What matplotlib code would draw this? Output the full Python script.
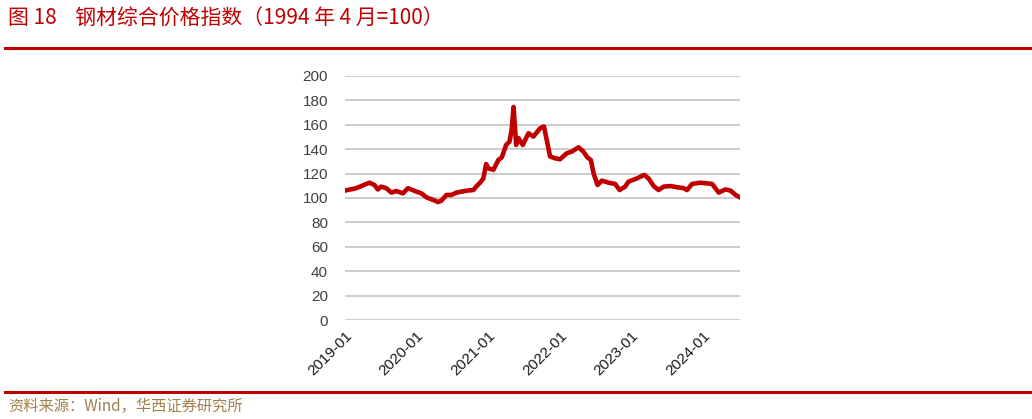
import numpy as np
import pandas as pd
import matplotlib
matplotlib.use("Agg")
from matplotlib import pyplot as plt
from matplotlib.lines import Line2D

plt.rcParams['font.family'] = ['Noto Sans CJK SC', 'DejaVu Sans']

# Steel composite price index (1994-04 = 100)
dates = ['2019-01-01', '2019-03-01', '2019-04-21', '2019-05-08', '2019-06-02', '2019-06-19',
         '2019-07-06', '2019-08-01', '2019-08-27', '2019-09-21', '2019-10-25', '2019-11-19',
         '2020-01-02', '2020-01-27', '2020-02-22', '2020-03-27', '2020-04-21', '2020-05-08',
         '2020-06-03', '2020-06-28', '2020-07-24', '2020-09-14', '2020-10-18', '2020-11-04',
         '2020-11-21', '2020-12-08', '2020-12-22', '2021-01-02', '2021-01-28', '2021-02-22',
         '2021-03-12', '2021-04-03', '2021-04-20', '2021-05-01', '2021-05-11', '2021-05-24',
         '2021-06-05', '2021-06-27', '2021-07-26', '2021-08-20', '2021-09-23', '2021-10-13',
         '2021-10-27', '2021-11-13', '2021-12-08', '2022-01-03', '2022-02-06', '2022-03-04',
         '2022-04-07', '2022-05-02', '2022-05-22', '2022-06-09', '2022-06-23', '2022-07-13',
         '2022-08-04', '2022-09-07', '2022-10-11', '2022-11-02', '2022-12-01', '2022-12-18',
         '2023-01-30', '2023-03-08', '2023-03-30', '2023-04-25', '2023-05-20', '2023-06-15',
         '2023-07-19', '2023-08-22', '2023-09-25', '2023-10-12', '2023-11-07', '2023-12-19',
         '2024-02-17', '2024-03-22', '2024-04-25', '2024-05-21', '2024-06-16', '2024-07-08']
index_values = [106, 108, 111.5, 112.5, 110.6, 107,
                109.3, 108, 104.4, 105.7, 103.8, 108,
                105.2, 103.8, 100.5, 98.4, 96.7, 97.8,
                102.5, 102.5, 104.4, 106, 106.5, 109.8,
                112.5, 116, 127.8, 124.3, 123, 131,
                133.3, 143.4, 146, 155.7, 174.5, 143.4,
                149, 143.4, 153, 150.3, 157, 158.5,
                147.5, 134, 132.5, 131.7, 136.6, 138,
                141.5, 138, 133.3, 131, 120, 110.6,
                114.2, 112.5, 111.5, 106.5, 109.3, 113.4,
                116, 118.9, 116, 109.8, 106.5, 109.3,
                109.8, 108.8, 108, 106.5, 111.5, 112.5,
                111.5, 104.4, 107, 106, 102.5, 100.5]
year_ticks = ['2019-01-01', '2020-01-01', '2021-01-01', '2022-01-01', '2023-01-01', '2024-01-01']
year_labels = ['2019-01', '2020-01', '2021-01', '2022-01', '2023-01', '2024-01']
y_ticks = list(range(0, 201, 20))

red = '#c00000'

fig = plt.figure(figsize=(10.32, 4.19), dpi=100)
ax = fig.add_axes([0.334, 0.236, 0.383, 0.583])

x = pd.to_datetime(dates)
ax.plot(x, index_values, color=red, linewidth=3.3, solid_joinstyle='round')

ax.set_ylim(0, 200)
ax.set_yticks(y_ticks)
ax.set_xlim(pd.Timestamp('2019-01-01'), pd.Timestamp('2024-07-08'))
ax.set_xticks(pd.to_datetime(year_ticks))
ax.set_xticklabels(year_labels, rotation=45, ha='right', rotation_mode='anchor')
for lab in ax.get_xticklabels() + ax.get_yticklabels():
    lab.set_family('Liberation Sans')
ax.yaxis.grid(True, color='#c8c8c8', linewidth=1.3)
ax.set_axisbelow(True)
for spine in ax.spines.values():
    spine.set_visible(False)
ax.tick_params(axis='both', length=0, labelsize=11)
ax.tick_params(axis='y', pad=12, colors='#404040')
ax.tick_params(axis='x', pad=6, colors='#1a1a1a')

# header and footer
fig.text(0.008, 0.955, '图 18    钢材综合价格指数（1994 年 4 月=100）', color=red,
         fontsize=15, ha='left', va='center')
fig.add_artist(Line2D([0.005, 1.0], [0.885, 0.885], color=red, linewidth=2.2))
fig.add_artist(Line2D([0.005, 1.0], [0.064, 0.064], color=red, linewidth=2.2))
fig.text(0.008, 0.03, '资料来源：Wind，华西证券研究所', color='#a0804a',
         fontsize=11, ha='left', va='center')

plt.savefig('out.png', dpi=100)
